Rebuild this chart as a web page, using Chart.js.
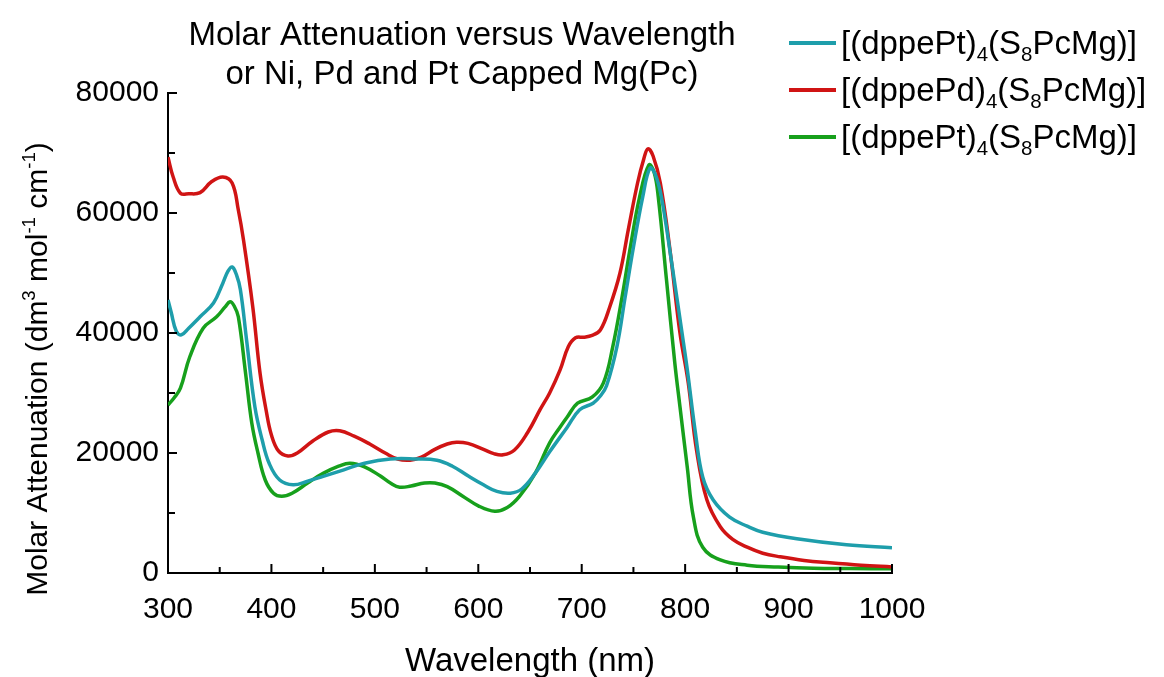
<!DOCTYPE html>
<html>
<head>
<meta charset="utf-8">
<script src="https://cdn.jsdelivr.net/npm/chart.js@4.4.1/dist/chart.umd.min.js"></script>
<style>
  html, body { margin: 0; padding: 0; background: #fff; }
  #wrap { width: 1164px; height: 677px; }
</style>
</head>
<body>
<div id="wrap"><canvas id="c" width="1164" height="677"></canvas></div>
<script>
/* ---- data (wavelength nm / molar attenuation) ---- */
const PT1_WAVE = [300, 303, 308, 313, 320, 331, 344, 353, 358, 362, 366, 370, 376, 384, 391, 398, 408, 421, 435, 450, 470, 490, 515, 540, 560, 575, 590, 605, 618, 631, 642, 655, 669, 686, 698, 711, 718, 724, 734, 742, 750, 759, 766, 771, 777, 787, 797, 802, 810, 817, 827, 843, 860, 875, 908, 956, 1000];
const PT1_VALS = [45500, 43500, 40300, 39700, 40800, 42700, 45000, 48300, 50300, 51000, 49800, 47200, 38800, 27700, 22200, 18200, 15500, 14700, 15300, 16100, 17200, 18300, 19000, 19000, 18800, 17800, 16200, 14700, 13600, 13300, 14000, 16600, 20200, 24300, 27200, 28300, 29500, 31200, 37700, 46000, 54300, 62700, 67500, 66500, 62700, 51700, 40000, 34000, 23300, 16000, 12200, 9300, 7800, 6800, 5700, 4700, 4200];

const PD_WAVE = [300, 305, 312, 320, 331, 342, 353, 362, 368, 373, 382, 389, 395, 400, 407, 416, 425, 440, 455, 466, 480, 495, 510, 522, 534, 545, 558, 570, 579, 590, 605, 615, 624, 635, 648, 660, 669, 679, 687, 694, 702, 710, 718, 727, 737, 745, 754, 760, 764, 769, 776, 785, 795, 803, 811, 821, 834, 846, 860, 875, 892, 915, 940, 970, 1000];
const PD_VALS = [69300, 66000, 63300, 63200, 63400, 65200, 66000, 65000, 60500, 55500, 44300, 33300, 27000, 23000, 20300, 19500, 20000, 22000, 23500, 23700, 22800, 21500, 20000, 19000, 18800, 19300, 20600, 21500, 21800, 21600, 20600, 19900, 19700, 20500, 23500, 27300, 30000, 33800, 37700, 39200, 39300, 39600, 40500, 44300, 50000, 57200, 65000, 69000, 70700, 69500, 65000, 54300, 40000, 31700, 20500, 12200, 7700, 5600, 4300, 3300, 2700, 2100, 1700, 1300, 1000];

const PT2_WAVE = [300, 306, 312, 321, 334, 347, 355, 360, 364, 368, 375, 381, 387, 394, 402, 410, 420, 435, 450, 465, 476, 490, 505, 515, 524, 535, 548, 558, 570, 585, 600, 616, 628, 640, 655, 669, 679, 686, 696, 710, 721, 730, 739, 747, 756, 765, 770, 774, 782, 790, 795, 802, 808, 817, 834, 860, 890, 924, 960, 1000];
const PT2_VALS = [28000, 29200, 30800, 36000, 40800, 42700, 44300, 45200, 44500, 42700, 33300, 25000, 20000, 15500, 13300, 12800, 13300, 15000, 16600, 17800, 18300, 17700, 16200, 15000, 14300, 14500, 15000, 15000, 14400, 12800, 11200, 10300, 10900, 12800, 16600, 21700, 24300, 26000, 28300, 29300, 31700, 37700, 46000, 54300, 62700, 68000, 66800, 62700, 48800, 35000, 27700, 17700, 9300, 4300, 2200, 1300, 1000, 800, 750, 700];

const X_MAJOR = [300, 400, 500, 600, 700, 800, 900, 1000];
const X_MINOR = [350, 450, 550, 650, 750, 850, 950];
const Y_MAJOR = [0, 20000, 40000, 60000, 80000];
const Y_MINOR = [10000, 30000, 50000, 70000];

const TITLE_LINES = ['Molar Attenuation versus Wavelength', 'or Ni, Pd and Pt Capped Mg(Pc)'];

/* label pieces: s = 0 normal, 1 superscript, -1 subscript */
const LEGEND = [
  { color: '#1e9eab', parts: [{ t: '[(dppePt)' }, { t: '4', s: -1 }, { t: '(S' }, { t: '8', s: -1 }, { t: 'PcMg)]' }] },
  { color: '#d01414', parts: [{ t: '[(dppePd)' }, { t: '4', s: -1 }, { t: '(S' }, { t: '8', s: -1 }, { t: 'PcMg)]' }] },
  { color: '#17a01c', parts: [{ t: '[(dppePt)' }, { t: '4', s: -1 }, { t: '(S' }, { t: '8', s: -1 }, { t: 'PcMg)]' }] },
];
const Y_TITLE = [{ t: 'Molar Attenuation (dm' }, { t: '3', s: 1 }, { t: ' mol' }, { t: '-1', s: 1 }, { t: ' cm' }, { t: '-1', s: 1 }, { t: ')' }];

const FONT = '"Liberation Sans", Arial, sans-serif';
const INK = '#000';

function pts(xs, ys) {
  return xs.map((x, i) => ({ x, y: ys[i] }));
}

/* draws text with sub/superscripts, y is the baseline */
function drawRich(ctx, parts, x, y, size, align) {
  let w = 0;
  parts.forEach(p => {
    ctx.font = (p.s ? size * 0.62 : size) + 'px ' + FONT;
    w += ctx.measureText(p.t).width;
  });
  let cx = align === 'center' ? x - w / 2 : x;
  ctx.textAlign = 'left';
  ctx.textBaseline = 'alphabetic';
  parts.forEach(p => {
    ctx.font = (p.s ? size * 0.62 : size) + 'px ' + FONT;
    const dy = p.s === 1 ? -size * 0.4 : p.s === -1 ? size * 0.22 : 0;
    ctx.fillText(p.t, cx, y + dy);
    cx += ctx.measureText(p.t).width;
  });
}

const decor = {
  id: 'decor',
  afterDraw(chart) {
    const { ctx, scales: { x, y }, chartArea: a } = chart;
    ctx.save();

    // inward tick marks
    ctx.strokeStyle = INK;
    ctx.lineWidth = 2;
    ctx.beginPath();
    X_MAJOR.forEach(v => { const p = x.getPixelForValue(v); ctx.moveTo(p, a.bottom); ctx.lineTo(p, a.bottom - 9); });
    X_MINOR.forEach(v => { const p = x.getPixelForValue(v); ctx.moveTo(p, a.bottom); ctx.lineTo(p, a.bottom - 6); });
    Y_MAJOR.forEach(v => { const p = y.getPixelForValue(v); ctx.moveTo(a.left, p); ctx.lineTo(a.left + 9, p); });
    Y_MINOR.forEach(v => { const p = y.getPixelForValue(v); ctx.moveTo(a.left, p); ctx.lineTo(a.left + 7, p); });
    ctx.stroke();

    ctx.fillStyle = INK;

    // title
    drawRich(ctx, [{ t: TITLE_LINES[0] }], 462, 45, 33, 'center');
    drawRich(ctx, [{ t: TITLE_LINES[1] }], 462, 84, 33, 'center');

    // x title
    drawRich(ctx, [{ t: 'Wavelength (nm)' }], (a.left + a.right) / 2, 671, 33, 'center');

    // y title
    ctx.save();
    ctx.translate(47, 369);
    ctx.rotate(-Math.PI / 2);
    drawRich(ctx, Y_TITLE, 0, 0, 30, 'center');
    ctx.restore();

    // legend
    LEGEND.forEach((item, i) => {
      const ly = 43 + i * 47;
      ctx.strokeStyle = item.color;
      ctx.lineWidth = 4;
      ctx.beginPath();
      ctx.moveTo(789, ly);
      ctx.lineTo(836, ly);
      ctx.stroke();
      ctx.fillStyle = INK;
      drawRich(ctx, item.parts, 841, ly + 11, 33, 'left');
    });

    ctx.restore();
  }
};

const line = (data, color) => ({
  data,
  borderColor: color,
  borderWidth: 3.5,
  pointRadius: 0,
  fill: false,
  tension: 0.4,
});

new Chart(document.getElementById('c'), {
  type: 'line',
  data: {
    datasets: [
      line(pts(PT1_WAVE, PT1_VALS), LEGEND[0].color),
      line(pts(PD_WAVE, PD_VALS), LEGEND[1].color),
      line(pts(PT2_WAVE, PT2_VALS), LEGEND[2].color),
    ],
  },
  options: {
    responsive: false,
    animation: false,
    layout: { padding: { top: 93, right: 272, left: 0, bottom: 0 } },
    plugins: { legend: { display: false }, tooltip: { enabled: false }, title: { display: false } },
    scales: {
      x: {
        type: 'linear',
        min: 300,
        max: 1000,
        afterFit: s => { s.height = 104; },
        ticks: { stepSize: 100, color: INK, padding: 11, font: { family: FONT, size: 30 }, callback: v => String(v) },
        grid: { display: false },
        border: { display: true, color: INK, width: 2 },
      },
      y: {
        min: 0,
        max: 80000,
        afterFit: s => { s.width = 168; },
        ticks: { stepSize: 20000, color: INK, padding: 1, font: { family: FONT, size: 30 }, callback: v => String(v) },
        grid: { display: false },
        border: { display: true, color: INK, width: 2 },
      },
    },
  },
  plugins: [decor],
});
</script>
</body>
</html>
